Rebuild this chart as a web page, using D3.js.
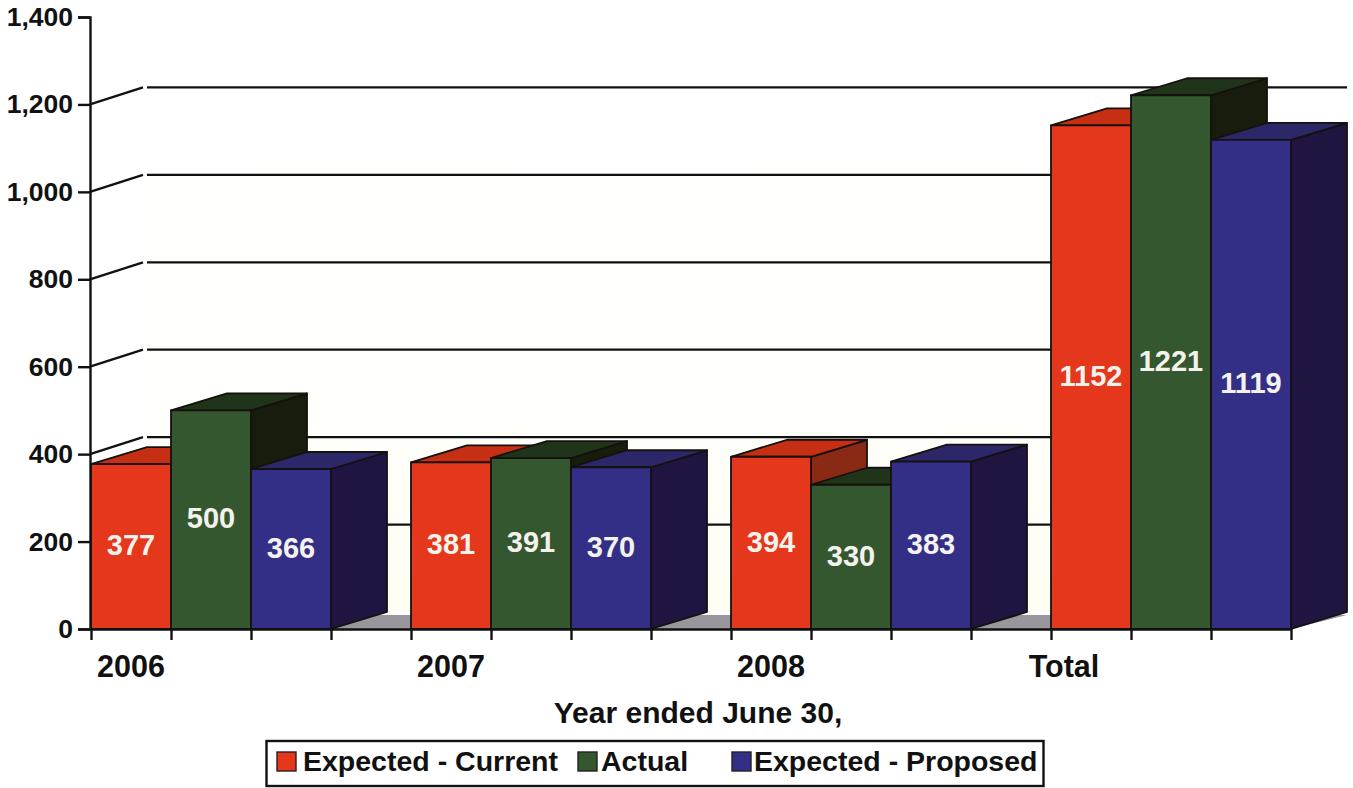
<!DOCTYPE html>
<html><head><meta charset="utf-8">
<script src="https://cdn.jsdelivr.net/npm/d3@7"></script>
<style>html,body{margin:0;padding:0;background:#fff}svg{display:block}text{font-family:"Liberation Sans",Arial,sans-serif;font-weight:bold}</style>
</head><body><svg id="c" width="1353" height="788"></svg>
<script>
const categories = ["2006","2007","2008","Total"];
const seriesNames = ["Expected - Current","Actual","Expected - Proposed"];
const expectedCurrent = [377,381,394,1152];
const actual = [500,391,330,1221];
const expectedProposed = [366,370,383,1119];
const yTicks = [0,200,400,600,800,1000,1200,1400];
const gridValues = [200,400,600,800,1000,1200];
const seriesValues = [expectedCurrent,actual,expectedProposed];
const fronts = ["#e5371b","#35572f","#332f86"];
const tops = ["#c72f15","#1f3419","#2b2768"];
const sides = ["#8a2a15","#171c0c","#201440"];

const svg = d3.select("#c");
const dx = 56, dy = 17;
const y = d3.scaleLinear().domain([0,1400]).range([629,17]);
const xCat = d3.scaleBand().domain(categories).range([91,1371]);
const xSer = d3.scaleBand().domain(d3.range(3)).range([0,240]);
const barX = (c,s)=>xCat(c)+xSer(s);
const w = xSer.bandwidth();
const x0 = 91, xEnd = barX("Total",2)+w;

const defs = svg.append("defs");
const g = defs.append("linearGradient").attr("id","wall").attr("x1",0).attr("x2",0).attr("y1",0).attr("y2",1);
g.append("stop").attr("offset","0").attr("stop-color","#ffffff");
g.append("stop").attr("offset","0.55").attr("stop-color","#fffffd");
g.append("stop").attr("offset","1").attr("stop-color","#fffef2");

// back wall and floor
svg.append("rect").attr("x",x0+dx).attr("y",y(1200)-dy).attr("width",xEnd-x0).attr("height",y(0)-y(1200)).attr("fill","url(#wall)");
svg.append("path").attr("fill","#9a979c")
  .attr("d",`M${x0},${y(0)}L${x0+dx},${y(0)-dy+3}L${xEnd+dx},${y(0)-dy+3}L${xEnd},${y(0)}Z`);

// gridlines
const grid = svg.append("g").attr("stroke","#111").attr("stroke-width",2.3).attr("fill","none");
gridValues.forEach(v=>{
  grid.append("path").attr("d",`M${x0-1},${y(v)}L${x0+dx-4},${y(v)-dy}`);
  grid.append("path").attr("d",`M${x0+dx},${y(v)-dy}L${xEnd+dx},${y(v)-dy}`);
});

// bars
const bars = svg.append("g").attr("stroke","#14110f").attr("stroke-width",1.8).attr("stroke-linejoin","round");
categories.forEach((c,i)=>{
  seriesValues.forEach((vals,s)=>{
    const X = barX(c,s), T = y(vals[i]), B = y(0);
    bars.append("path").attr("fill",sides[s])
      .attr("d",`M${X+w},${T}L${X+w+dx},${T-dy}L${X+w+dx},${B-dy}L${X+w},${B}Z`);
    bars.append("path").attr("fill",tops[s])
      .attr("d",`M${X},${T}L${X+dx},${T-dy}L${X+w+dx},${T-dy}L${X+w},${T}Z`);
    bars.append("rect").attr("x",X).attr("y",T).attr("width",w).attr("height",B-T).attr("fill",fronts[s]);
  });
});

// value labels
categories.forEach((c,i)=>{
  seriesValues.forEach((vals,s)=>{
    svg.append("text").attr("x",barX(c,s)+w/2).attr("y",y(vals[i]/2)+1)
      .attr("text-anchor","middle").attr("dominant-baseline","middle")
      .attr("font-size",29).attr("fill","#f4f2ec").text(vals[i]);
  });
});

// y axis
const yAxis = svg.append("g").attr("transform","translate(90,0)")
  .call(d3.axisLeft(y).tickValues(yTicks).tickFormat(d3.format(",")).tickSize(12).tickPadding(5));
yAxis.selectAll("path.domain").attr("stroke","#111").attr("stroke-width",2.4);
yAxis.selectAll("line").attr("stroke","#111").attr("stroke-width",2.4);
yAxis.selectAll("text").attr("font-size",26.5).attr("fill","#111").style("font-family",'"Liberation Sans",Arial,sans-serif').style("font-weight","bold");

// x axis (tick at every bar edge)
const edgeTicks = d3.range(0,16).map(k=>x0+k*w).filter(v=>v<=xEnd);
const xEdge = d3.scaleIdentity().domain([x0,xEnd]).range([x0,xEnd]);
const xAxis = svg.append("g").attr("transform",`translate(0,${y(0)})`)
  .call(d3.axisBottom(xEdge).tickValues(edgeTicks).tickFormat("").tickSize(11).tickSizeOuter(0));
xAxis.selectAll("path.domain").attr("stroke","#111").attr("stroke-width",2.4);
xAxis.selectAll("line").attr("stroke","#111").attr("stroke-width",2.4);

// category labels
categories.forEach((c,i)=>{
  svg.append("text").attr("x",barX(c,0)+w/2-(c==="Total"?27:0)).attr("y",677)
    .attr("text-anchor","middle").attr("font-size",30.5).attr("fill","#111").text(c);
});

// axis title
svg.append("text").attr("x",698).attr("y",723).attr("text-anchor","middle").attr("font-size",30).attr("fill","#111").text("Year ended June 30,");

// legend
svg.append("rect").attr("x",266.5).attr("y",741).attr("width",777).attr("height",45).attr("fill","#fff").attr("stroke","#111").attr("stroke-width",2.4);
const legendText = [303,601,754], legendSwatch = [277,578,732];
seriesNames.forEach((n,s)=>{
  svg.append("rect").attr("x",legendSwatch[s]).attr("y",752).attr("width",19).attr("height",19)
    .attr("fill",fronts[s]).attr("stroke","#222").attr("stroke-width",1.4);
  svg.append("text").attr("x",legendText[s]).attr("y",771).attr("font-size",28.5).attr("fill","#111").text(n);
});
</script></body></html>
